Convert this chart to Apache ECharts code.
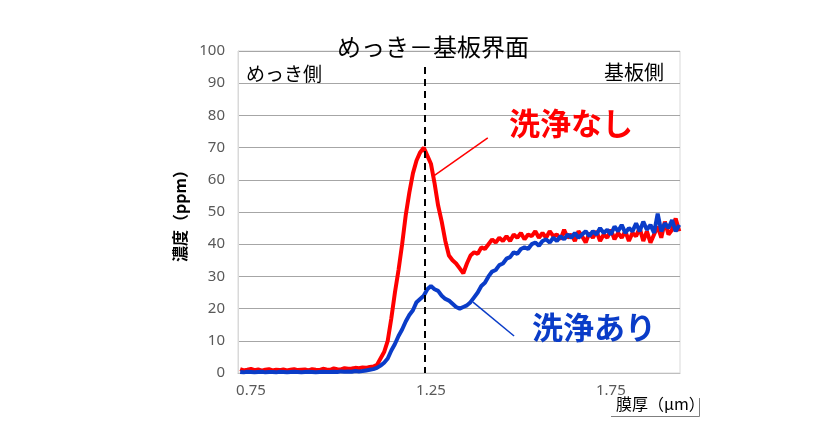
<!DOCTYPE html>
<html>
<head>
<meta charset="utf-8">
<script src="https://cdn.jsdelivr.net/npm/echarts@6/dist/echarts.min.js"></script>
<style>
  html, body { margin: 0; padding: 0; background: #fff; }
  #chart { width: 836px; height: 440px; }
</style>
</head>
<body>
<div id="chart"></div>
<script>
// 膜厚 (μm)
const thickness = [
  0.72, 0.73, 0.74, 0.75, 0.76, 0.77, 0.78, 0.79, 0.80, 0.81,
  0.82, 0.83, 0.84, 0.85, 0.86, 0.87, 0.88, 0.89, 0.90, 0.91,
  0.92, 0.93, 0.94, 0.95, 0.96, 0.97, 0.98, 0.99, 1.00, 1.01,
  1.02, 1.03, 1.04, 1.05, 1.06, 1.07, 1.08, 1.09, 1.10, 1.11,
  1.12, 1.13, 1.14, 1.15, 1.16, 1.17, 1.18, 1.19, 1.20, 1.21,
  1.22, 1.23, 1.24, 1.25, 1.26, 1.27, 1.28, 1.29, 1.30, 1.31,
  1.32, 1.33, 1.34, 1.35, 1.36, 1.37, 1.38, 1.39, 1.40, 1.41,
  1.42, 1.43, 1.44, 1.45, 1.46, 1.47, 1.48, 1.49, 1.50, 1.51,
  1.52, 1.53, 1.54, 1.55, 1.56, 1.57, 1.58, 1.59, 1.60, 1.61,
  1.62, 1.63, 1.64, 1.65, 1.66, 1.67, 1.68, 1.69, 1.70, 1.71,
  1.72, 1.73, 1.74, 1.75, 1.76, 1.77, 1.78, 1.79, 1.80, 1.81,
  1.82, 1.83, 1.84, 1.85, 1.86, 1.87, 1.88, 1.89, 1.90, 1.91,
  1.92, 1.93, 1.94
];

// 洗浄なし 濃度 (ppm)
const noWash = [
  1.2, 0.8, 1.0, 1.3, 0.9, 1.1, 0.7, 1.0, 1.2, 0.8,
  1.0, 0.9, 1.1, 0.8, 1.0, 1.2, 0.9, 1.0, 1.1, 0.8,
  1.2, 1.0, 0.9, 1.3, 1.1, 1.0, 1.4, 1.2, 1.1, 1.5,
  1.3, 1.4, 1.6, 1.5, 1.7, 1.6, 1.9, 2.0, 2.5, 4.5,
  6.5, 10, 17, 25, 32, 40, 49, 56, 62, 66,
  68.5, 70, 67.5, 65, 59, 52, 47, 41, 36.5, 35,
  34, 32.5, 31, 34, 36.5, 37.5, 37, 39, 38.5, 40,
  41.5, 40.5, 42, 41, 42.5, 41, 43, 42, 43.5, 41.5,
  43, 42.5, 44, 42, 43.5, 42, 44, 42.5, 43, 41.5,
  44.5, 42, 43, 41, 44, 42.5, 40.5, 43.5, 42, 44,
  41, 43, 42, 44.5, 41.5, 43.5, 42, 44, 41, 43.5,
  42.5, 45, 41, 44, 40.5, 43, 45.5, 42, 47, 43,
  44.5, 48, 44
];

// 洗浄あり 濃度 (ppm)
const withWash = [
  0.3, 0.2, 0.4, 0.3, 0.2, 0.3, 0.4, 0.2, 0.3, 0.3,
  0.2, 0.4, 0.3, 0.2, 0.3, 0.4, 0.3, 0.2, 0.3, 0.4,
  0.3, 0.2, 0.3, 0.4, 0.3, 0.3, 0.4, 0.3, 0.5, 0.4,
  0.5, 0.4, 0.6, 0.5, 0.6, 0.8, 1.0, 1.2, 1.6, 2.3,
  3.2, 4.5, 7, 9, 11.5, 13.5, 16, 18, 19.5, 22,
  23, 24, 26, 27, 26, 25.5, 24, 23, 22.5, 21.5,
  20.5, 20, 20.5, 21, 22, 23.5, 25, 27, 28, 30,
  31.5, 32, 33.5, 34, 35.5, 36, 37.5, 37, 38.5, 39,
  38.5, 40, 40.5, 39.5, 41, 41.5, 40.5, 42, 41, 42.5,
  41.5, 43, 42, 43.5, 42, 43, 44, 42.5, 44, 43,
  45, 43.5, 44.5, 43, 45.5, 44, 46, 43.5, 45, 44,
  46.5, 44, 47, 44.5, 46, 43.5, 49.5, 44, 46.5, 45,
  47.5, 44, 46
];

const xTicks = [0.75, 1.25, 1.75];
const interfacePos = 1.233;

const redData = thickness.map((x, i) => [x, noWash[i]]);
const blueData = thickness.map((x, i) => [x, withWash[i]]);

const jp = '"Noto Sans CJK JP", "Noto Sans", sans-serif';
const tickFont = '"Noto Sans", "Noto Sans CJK JP", sans-serif';

const myChart = echarts.init(document.getElementById('chart'), null, { renderer: 'canvas' });

const option = {
  animation: false,
  backgroundColor: '#fff',
  grid: { left: 238, right: 156, top: 51, bottom: 67 },
  xAxis: {
    type: 'value',
    min: 0.714,
    max: 1.942,
    axisLine: { show: true, lineStyle: { color: '#bfbfbf', width: 1 } },
    axisTick: { show: false },
    splitLine: { show: false },
    axisLabel: {
      customValues: xTicks,
      color: '#595959',
      fontSize: 15,
      fontFamily: tickFont,
      margin: 10,
      formatter: v => v.toFixed(2)
    }
  },
  yAxis: {
    type: 'value',
    min: 0,
    max: 100,
    interval: 10,
    name: '濃度（ppm）',
    nameLocation: 'middle',
    nameGap: 47,
    nameTextStyle: { fontFamily: jp, fontSize: 16, fontWeight: 'bold', color: '#000' },
    axisLine: { show: true, lineStyle: { color: '#d9d9d9' } },
    axisTick: { show: false },
    axisLabel: { color: '#595959', fontSize: 15, fontFamily: tickFont, margin: 13 },
    splitLine: { lineStyle: { color: '#a6a6a6', width: 1 } }
  },
  series: [
    {
      name: '洗浄なし',
      type: 'line',
      data: redData,
      showSymbol: false,
      lineStyle: { color: '#ff0000', width: 4 },
      z: 2,
      markLine: {
        silent: true,
        symbol: 'none',
        label: { show: false },
        lineStyle: { color: '#ff0000', width: 1.5, type: 'solid' },
        data: [
          [{ coord: [1.258, 61.2] }, { coord: [1.408, 73] }]
        ]
      }
    },
    {
      name: '洗浄あり',
      type: 'line',
      data: blueData,
      showSymbol: false,
      lineStyle: { color: '#0a3cc8', width: 4 },
      z: 3,
      markLine: {
        silent: true,
        symbol: 'none',
        label: { show: false },
        data: [
          [{ coord: [1.367, 22], lineStyle: { color: '#0a3cc8', width: 1.5, type: 'solid' } },
           { coord: [1.481, 11.5] }],
          [{ coord: [interfacePos, 95], lineStyle: { color: '#000', width: 2, type: [7, 5] } },
           { coord: [interfacePos, 0] }]
        ]
      }
    }
  ],
  graphic: [
    {
      type: 'rect',
      shape: { x: 238, y: 51, width: 442, height: 322 },
      style: { fill: 'none', stroke: '#d9d9d9', lineWidth: 1 },
      silent: true,
      z: 0
    },
    {
      type: 'text', x: 433, y: 35, z: 10,
      style: { text: 'めっき－基板界面', font: '24px ' + jp, fill: '#000', align: 'center' }
    },
    {
      type: 'text', x: 246, y: 64, z: 10,
      style: { text: 'めっき側', font: '19px ' + jp, fill: '#000' }
    },
    {
      type: 'text', x: 664, y: 62, z: 10,
      style: { text: '基板側', font: '20px ' + jp, fill: '#000', align: 'right' }
    },
    {
      type: 'text', x: 509, y: 108, z: 10,
      style: { text: '洗浄なし', font: 'bold 31px ' + jp, fill: '#ff0000' }
    },
    {
      type: 'text', x: 532, y: 312, z: 10,
      style: { text: '洗浄あり', font: 'bold 31px ' + jp, fill: '#0a3cc8' }
    },
    {
      type: 'text', x: 616, y: 396, z: 10,
      style: { text: '膜厚（μm）', font: '16px ' + jp, fill: '#000' }
    },
    {
      type: 'polyline', z: 10, silent: true,
      shape: { points: [[611, 416.5], [699.5, 416.5], [699.5, 398]] },
      style: { stroke: '#7f7f7f', lineWidth: 1, fill: 'none' }
    }
  ]
};

myChart.setOption(option);
</script>
</body>
</html>
